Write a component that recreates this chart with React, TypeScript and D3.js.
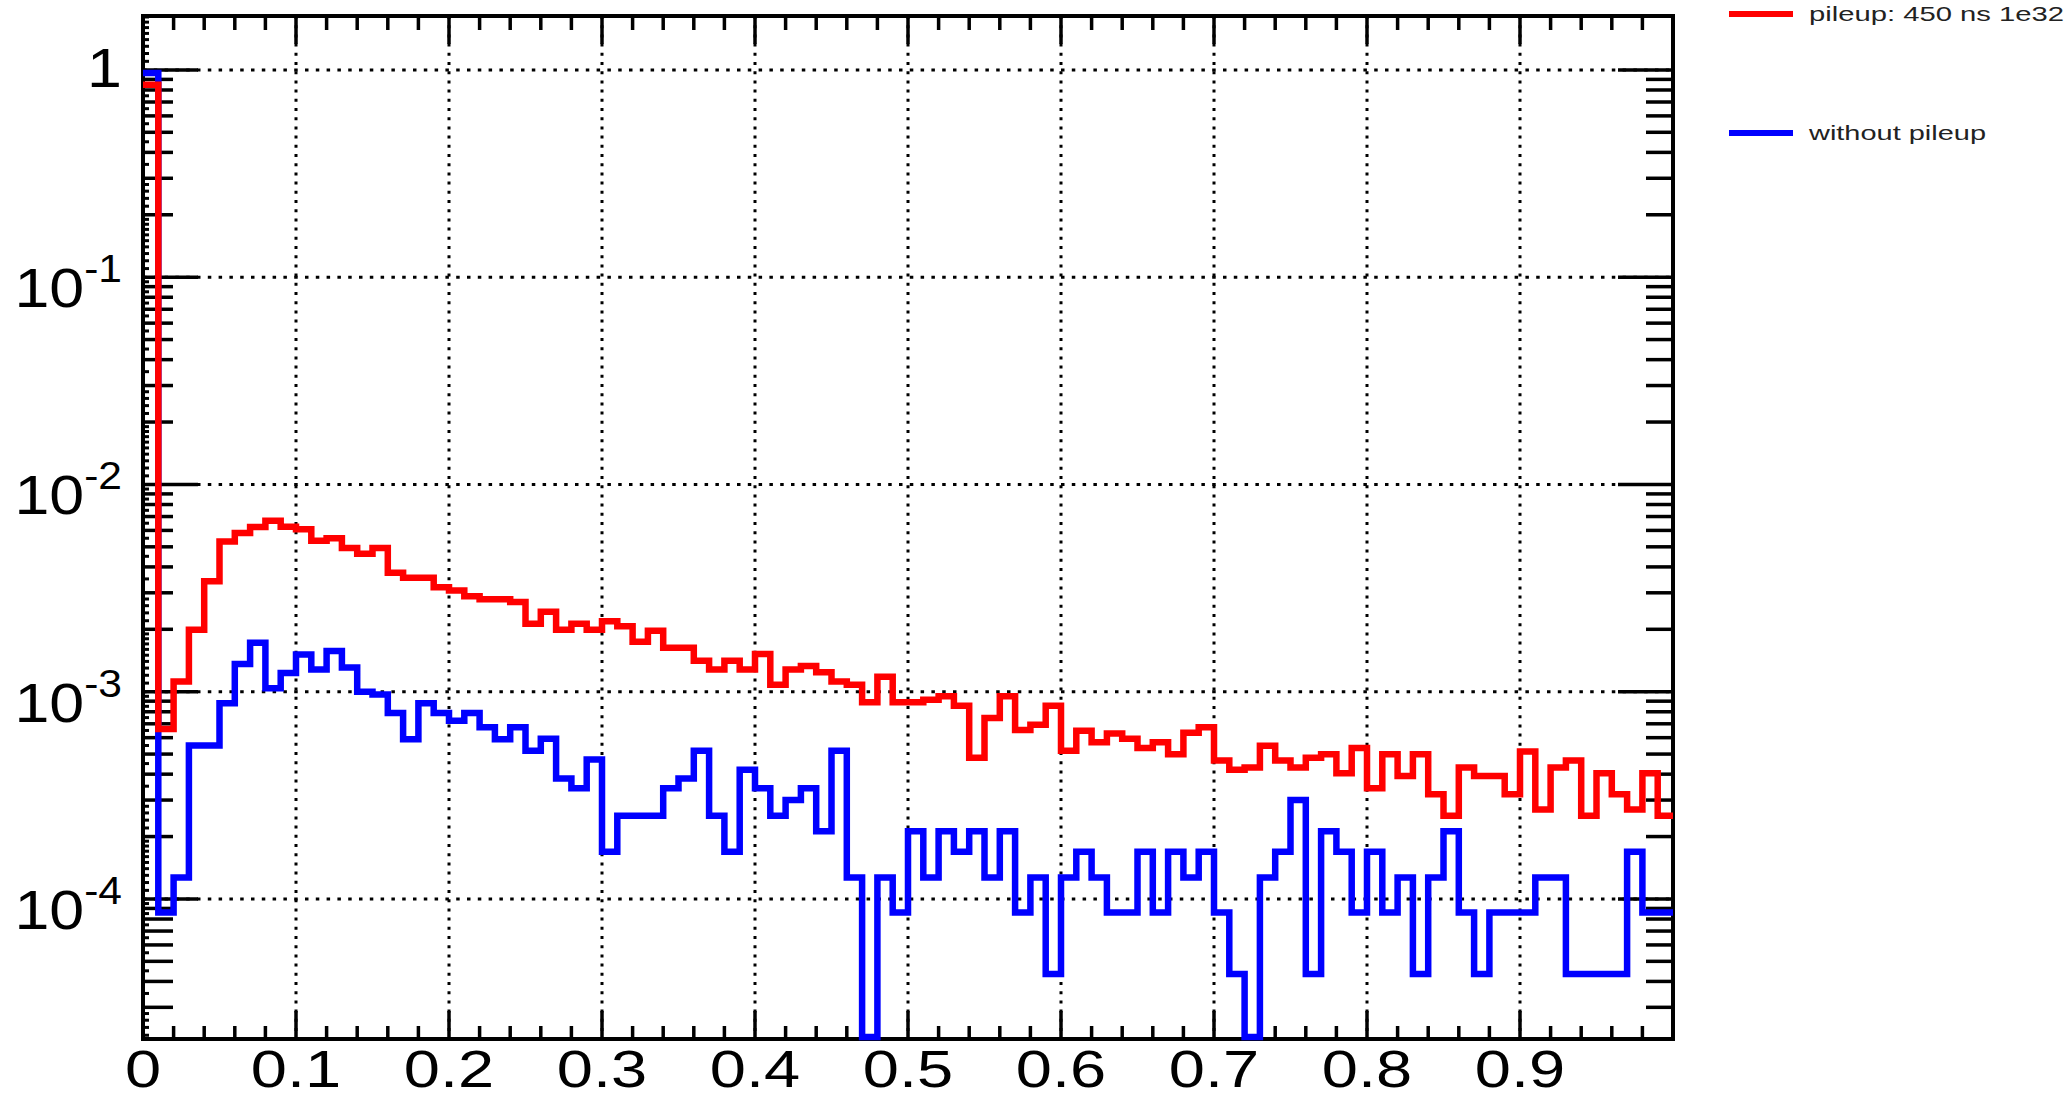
import React from 'react';
import * as d3 from 'd3';

// ---- data ----
const binEdgesLow: number[] = d3.range(100).map((i) => i / 100); // bin width 0.01, range [0,1]

const pileup450: number[] = [
  0.847, 6.6e-4, 1.12e-3, 1.99e-3, 3.41e-3, 5.31e-3, 5.83e-3, 6.23e-3, 6.68e-3, 6.25e-3,
  6.07e-3, 5.35e-3, 5.5e-3, 4.94e-3, 4.63e-3, 4.94e-3, 3.75e-3, 3.55e-3, 3.55e-3, 3.19e-3,
  3.08e-3, 2.89e-3, 2.79e-3, 2.79e-3, 2.71e-3, 2.13e-3, 2.43e-3, 1.99e-3, 2.13e-3, 1.99e-3,
  2.19e-3, 2.07e-3, 1.74e-3, 1.97e-3, 1.63e-3, 1.63e-3, 1.41e-3, 1.28e-3, 1.41e-3, 1.28e-3,
  1.52e-3, 1.08e-3, 1.28e-3, 1.33e-3, 1.24e-3, 1.12e-3, 1.08e-3, 8.9e-4, 1.18e-3, 8.9e-4,
  8.9e-4, 9.15e-4, 9.5e-4, 8.55e-4, 4.8e-4, 7.47e-4, 9.5e-4, 6.53e-4, 6.92e-4, 8.55e-4,
  5.19e-4, 6.48e-4, 5.7e-4, 6.28e-4, 5.93e-4, 5.35e-4, 5.7e-4, 4.99e-4, 6.33e-4, 6.73e-4,
  4.66e-4, 4.2e-4, 4.31e-4, 5.49e-4, 4.66e-4, 4.31e-4, 4.8e-4, 4.99e-4, 4.04e-4, 5.35e-4,
  3.42e-4, 4.99e-4, 3.92e-4, 4.99e-4, 3.2e-4, 2.52e-4, 4.31e-4, 3.92e-4, 3.92e-4, 3.2e-4,
  5.14e-4, 2.7e-4, 4.31e-4, 4.66e-4, 2.52e-4, 4.04e-4, 3.2e-4, 2.7e-4, 4.04e-4, 2.52e-4,
];

const withoutPileup: number[] = [
  0.967, 8.6e-5, 1.27e-4, 5.5e-4, 5.5e-4, 8.8e-4, 1.36e-3, 1.72e-3, 1.04e-3, 1.23e-3,
  1.51e-3, 1.28e-3, 1.57e-3, 1.31e-3, 1.0e-3, 9.7e-4, 7.9e-4, 5.9e-4, 8.8e-4, 7.9e-4,
  7.25e-4, 7.9e-4, 6.73e-4, 5.9e-4, 6.73e-4, 5.19e-4, 5.93e-4, 3.81e-4, 3.42e-4, 4.71e-4,
  1.69e-4, 2.52e-4, 2.52e-4, 2.52e-4, 3.42e-4, 3.81e-4, 5.19e-4, 2.52e-4, 1.69e-4, 4.2e-4,
  3.42e-4, 2.52e-4, 3.0e-4, 3.42e-4, 2.12e-4, 5.19e-4, 1.27e-4, 0, 1.27e-4, 8.6e-5,
  2.12e-4, 1.27e-4, 2.12e-4, 1.69e-4, 2.12e-4, 1.27e-4, 2.12e-4, 8.6e-5, 1.27e-4, 4.35e-5,
  1.27e-4, 1.69e-4, 1.27e-4, 8.6e-5, 8.6e-5, 1.69e-4, 8.6e-5, 1.69e-4, 1.27e-4, 1.69e-4,
  8.6e-5, 4.35e-5, 0, 1.27e-4, 1.69e-4, 3.0e-4, 4.35e-5, 2.12e-4, 1.69e-4, 8.6e-5,
  1.69e-4, 8.6e-5, 1.27e-4, 4.35e-5, 1.27e-4, 2.12e-4, 8.6e-5, 4.35e-5, 8.6e-5, 8.6e-5,
  8.6e-5, 1.27e-4, 1.27e-4, 4.35e-5, 4.35e-5, 4.35e-5, 4.35e-5, 1.69e-4, 8.6e-5, 8.6e-5,
];

const xTickValues: number[] = [0, 0.1, 0.2, 0.3, 0.4, 0.5, 0.6, 0.7, 0.8, 0.9];
const xTickLabels: string[] = ['0', '0.1', '0.2', '0.3', '0.4', '0.5', '0.6', '0.7', '0.8', '0.9'];
const yDecades: number[] = [1, 0.1, 0.01, 0.001, 0.0001];
const yExponents: string[] = ['', '-1', '-2', '-3', '-4'];

const legendLabels: string[] = ['pileup: 450 ns 1e32', 'without pileup'];
const legendColors: string[] = ['#ff0000', '#0000ff'];

// ---- layout ----
const W = 2071;
const H = 1099;
const L = 143;
const R = 1673;
const T = 16;
const B = 1039;
const FONT = '"Liberation Sans", Arial, Helvetica, sans-serif';

const x = d3.scaleLinear().domain([0, 1]).range([L, R]);
const y = d3.scaleLog().domain([2.11e-5, 1.82]).range([B, T]);

function histPath(vals: number[]): string {
  const pts: [number, number][] = binEdgesLow.map((e, i) => [x(e), vals[i] > 0 ? Math.min(y(vals[i]), B - 2) : B - 2]);
  pts.push([x(1), pts[pts.length - 1][1]]);
  return d3.line().curve(d3.curveStepAfter)(pts) || '';
}

// log ticks
const [yMin, yMax] = y.domain();
const medTicks: number[] = [];
const smallTicks: number[] = [];
for (let e = -6; e <= 1; e++) {
  const d = Math.pow(10, e);
  for (let m = 2; m <= 9; m++) medTicks.push(m * d);
  for (let m = 11; m <= 19; m++) smallTicks.push((m / 10) * d);
  for (const m of [2.2, 2.4, 2.6, 2.8, 3.5, 4.5, 5.5, 6.5, 7.5, 8.5, 9.5]) smallTicks.push(m * d);
}
const inY = (v: number) => v >= yMin && v <= yMax;
const xMinor: number[] = d3.range(0, 101, 2).map((k) => k / 100).filter((v) => Math.round(v * 100) % 10 !== 0);

export default function App() {
  const tickW = 3.5;
  return (
    <svg
      width={W}
      height={H}
      viewBox={`0 0 ${W} ${H}`}
      style={{ position: 'absolute', left: 0, top: 0, background: '#fff' }}
    >
      <rect x={0} y={0} width={W} height={H} fill="#fff" />
      {/* grid */}
      <g stroke="#000" strokeWidth={3} fill="none">
        {yDecades.map((v) => (
          <line key={'gy' + v} x1={L} x2={R} y1={y(v)} y2={y(v)} strokeDasharray="3.5 7.3" />
        ))}
        {xTickValues.filter((v) => v > 0).map((v) => (
          <line key={'gx' + v} x1={x(v)} x2={x(v)} y1={T} y2={B} strokeDasharray="3 6.2" />
        ))}
      </g>
      {/* ticks */}
      <g stroke="#000" strokeWidth={tickW}>
        {yDecades.map((v) => (
          <g key={'yt' + v}>
            <line x1={L} x2={L + 55} y1={y(v)} y2={y(v)} />
            <line x1={R} x2={R - 55} y1={y(v)} y2={y(v)} />
          </g>
        ))}
        {medTicks.filter(inY).map((v) => (
          <g key={'ym' + v}>
            <line x1={L} x2={L + 30} y1={y(v)} y2={y(v)} />
            <line x1={R} x2={R - 27} y1={y(v)} y2={y(v)} />
          </g>
        ))}
        {smallTicks.filter(inY).map((v) => (
          <line key={'ys' + v} x1={L} x2={L + 6} y1={y(v)} y2={y(v)} strokeWidth={3} />
        ))}
        {xTickValues.map((v) => (
          <g key={'xt' + v}>
            <line x1={x(v)} x2={x(v)} y1={B} y2={B - 28} />
            <line x1={x(v)} x2={x(v)} y1={T} y2={T + 28} />
          </g>
        ))}
        {xMinor.map((v) => (
          <g key={'xm' + v}>
            <line x1={x(v)} x2={x(v)} y1={B} y2={B - 13} />
            <line x1={x(v)} x2={x(v)} y1={T} y2={T + 14} />
          </g>
        ))}
      </g>
      {/* frame */}
      <rect x={L} y={T} width={R - L} height={B - T} fill="none" stroke="#000" strokeWidth={4} />
      {/* histograms */}
      <path d={histPath(withoutPileup)} fill="none" stroke={legendColors[1]} strokeWidth={6.5} />
      <path d={histPath(pileup450)} fill="none" stroke={legendColors[0]} strokeWidth={6.5} />
      {/* x labels */}
      {xTickValues.map((v, i) => (
        <text
          key={'xl' + v}
          transform={`translate(${x(v)},1087) scale(1.25,1)`}
          textAnchor="middle"
          fontFamily={FONT}
          fontSize={52}
          fill="#000"
        >
          {xTickLabels[i]}
        </text>
      ))}
      {/* y labels */}
      {yDecades.map((v, i) =>
        yExponents[i] === '' ? (
          <text
            key={'yl' + v}
            transform={`translate(122,${y(v) + 17}) scale(1.12,1)`}
            textAnchor="end"
            fontFamily={FONT}
            fontSize={56}
            fill="#000"
          >
            1
          </text>
        ) : (
          <text
            key={'yl' + v}
            transform={`translate(122,${y(v)}) scale(1.12,1)`}
            textAnchor="end"
            fontFamily={FONT}
            fill="#000"
            y={30}
          >
            <tspan fontSize={56}>10</tspan>
            <tspan fontSize={38} dy={-25}>
              {yExponents[i]}
            </tspan>
          </text>
        )
      )}
      {/* legend */}
      {legendLabels.map((lab, i) => {
        const ly = i === 0 ? 14 : 133;
        return (
          <g key={'lg' + i}>
            <line x1={1729} x2={1793} y1={ly} y2={ly} stroke={legendColors[i]} strokeWidth={6} />
            <text
              x={1809}
              y={ly + 7}
              fontFamily={FONT}
              fontSize={21}
              fill="#222"
              textLength={i === 0 ? 255 : 177}
              lengthAdjust="spacingAndGlyphs"
            >
              {lab}
            </text>
          </g>
        );
      })}
    </svg>
  );
}
